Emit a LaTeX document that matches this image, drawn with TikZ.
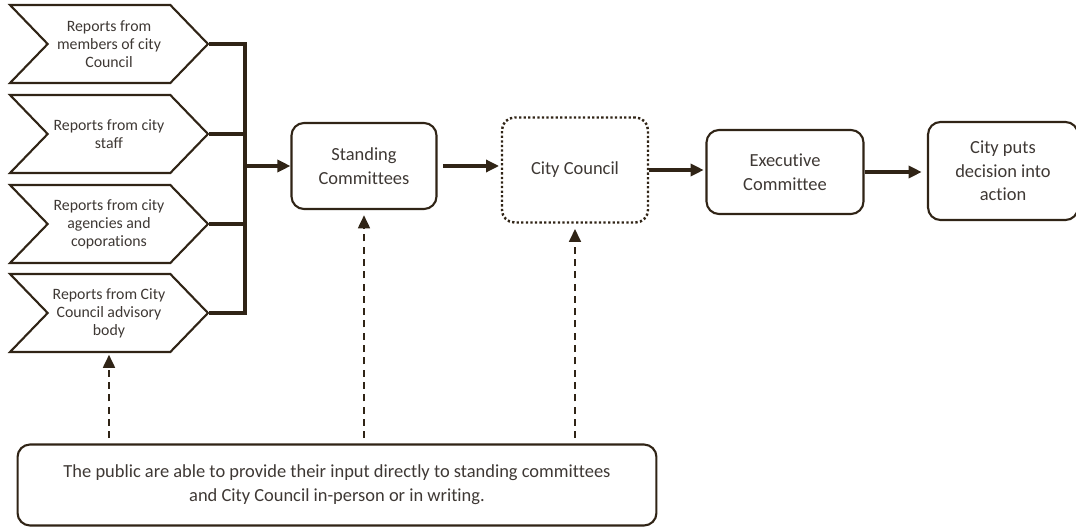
\documentclass[tikz,border=0pt]{standalone}
\usepackage{fontspec}
\setmainfont{Carlito}[Ligatures=CommonOff]
\usetikzlibrary{shapes.symbols,arrows.meta,positioning}
\definecolor{ink}{RGB}{48,36,22}
\definecolor{txt}{RGB}{62,56,52}

\begin{document}
\begin{tikzpicture}[x=0.02cm,y=-0.02cm,
report/.style={signal, signal from=west, signal to=east, signal pointer angle=92, draw=ink, line width=1.2pt, minimum width=3.96cm, minimum height=1.56cm, inner sep=0pt, text=txt, align=center, font=\fontsize{9}{10.2}\selectfont},
stage/.style={draw=ink, line width=1.2pt, rounded corners=0.25cm, text=txt, align=center, font=\fontsize{10.5}{13.5}\selectfont},
flow/.style={draw=ink, line width=1.8pt, -{Triangle[length=2.6mm,width=2.4mm]}},
input/.style={draw=ink, line width=1pt, dash pattern=on 4pt off 3pt, -{Triangle[length=2.6mm,width=2.4mm]}}]

\useasboundingbox (0,0) rectangle (1076,527);

% reports feeding in
\node[report] (rep1) at (109,44) {Reports from\\ members of city\\ Council};
\node[report] (rep2) at (109,134) {Reports from city\\ staff};
\node[report] (rep3) at (109,224) {Reports from city\\ agencies and\\ coporations};
\node[report] (rep4) at (109,313) {Reports from City\\ Council advisory\\ body};

% stages
\node[stage, minimum width=2.9cm, minimum height=1.72cm] (sc) at (364,166) {Standing\\ Committees};
\node[stage, line width=1.4pt, dash pattern=on 1.3pt off 1.3pt, minimum width=2.92cm, minimum height=2.1cm] (cc) at (575,170) {City Council};
\node[stage, minimum width=3.14cm, minimum height=1.68cm] (ec) at (785,172) {Executive\\ Committee};
\node[stage, minimum width=3cm, minimum height=1.96cm] (act) at (1003,171) {City puts\\ decision into\\ action};

\node[stage, minimum width=12.78cm, minimum height=1.62cm] (pub) at (337,485) {The public are able to provide their input directly to standing committees\\ and City Council in-person or in writing.};

% bus
\coordinate (bus) at (245,313);
\draw[draw=ink, line width=1.8pt] (rep1.east) -| (bus) -- (rep4.east);
\draw[draw=ink, line width=1.8pt] (rep2.east) -- (rep2.east -| bus);
\draw[draw=ink, line width=1.8pt] (rep3.east) -- (rep3.east -| bus);
\draw[flow] (bus |- sc.west) -- (sc.west);

\draw[flow, shorten <=3pt, shorten >=1pt] (sc.east) -- (sc.east -| cc.west);
\draw[flow, shorten >=1pt] (cc.east) -- (cc.east -| ec.west);
\draw[flow, shorten >=3pt] (ec.east) -- (ec.east -| act.west);

% public input
\draw[input, shorten <=3pt, shorten >=1pt] (pub.north -| rep4.south) -- (rep4.south);
\draw[input, shorten <=3pt, shorten >=3pt] (pub.north -| sc.south) -- (sc.south);
\draw[input, shorten <=3pt, shorten >=3pt] (pub.north -| cc.south) -- (cc.south);
%
\end{tikzpicture}
\end{document}
